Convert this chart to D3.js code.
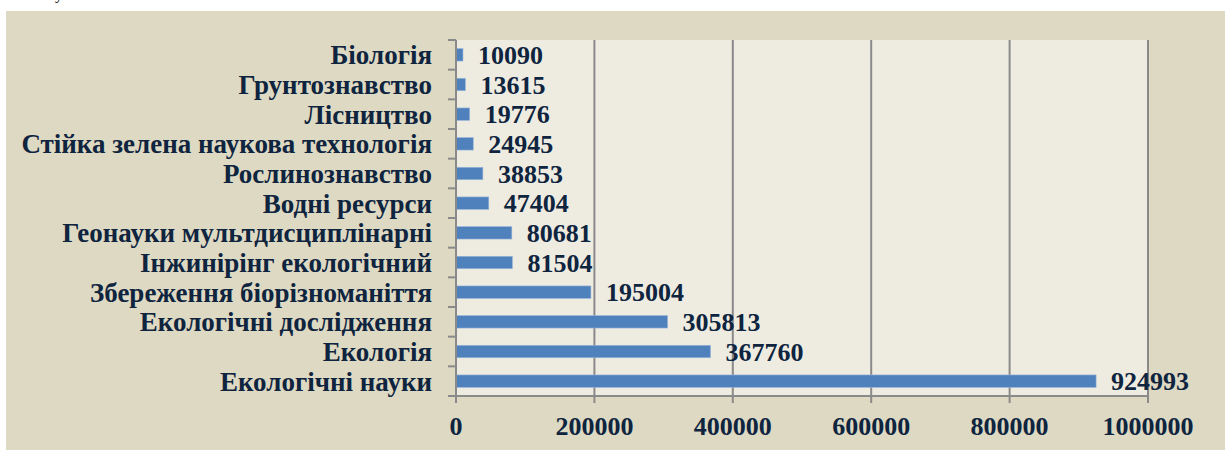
<!doctype html>
<html>
<head>
<meta charset="utf-8">
<script src="https://cdnjs.cloudflare.com/ajax/libs/d3/7.8.5/d3.min.js"></script>
<style>
  body { margin: 0; background: #fff; }
  svg { display: block; }
  text { font-family: "Liberation Serif", "Times New Roman", serif; font-weight: bold; fill: #0f243e; }
</style>
</head>
<body>
<svg width="1225" height="450"></svg>
<script>
// categories listed top to bottom
const categories = ["Біологія", "Грунтознавство", "Лісництво", "Стійка зелена наукова технологія",
  "Рослинознавство", "Водні ресурси", "Геонауки мультдисциплінарні", "Інжинірінг екологічний",
  "Збереження біорізноманіття", "Екологічні дослідження", "Екологія", "Екологічні науки"];
const values = [10090, 13615, 19776, 24945, 38853, 47404, 80681, 81504, 195004, 305813, 367760, 924993];
const xTicks = [0, 200000, 400000, 600000, 800000, 1000000];

const svg = d3.select("svg");

// outer chart area
svg.append("rect").attr("x", 6).attr("y", 11).attr("width", 1219).attr("height", 439).attr("fill", "#ddd9c3");
// stray glyph cut off at the top of the page
svg.append("text").attr("x", 55).attr("y", -1).style("font-size", "16px").style("font-weight", "normal").style("fill", "#000").text("у");

const pLeft = 456, pRight = 1148, pTop = 40, pBottom = 396;
const x = d3.scaleLinear().domain([0, 1000000]).range([pLeft, pRight]);
const y = d3.scaleBand().domain(categories).range([pTop, pBottom]).paddingInner(0.58).paddingOuter(0.29);

svg.append("rect").attr("x", pLeft).attr("y", pTop).attr("width", pRight - pLeft).attr("height", pBottom - pTop).attr("fill", "#eeece1");

// vertical gridlines
svg.selectAll("line.grid").data(xTicks.slice(1)).enter().append("line")
  .attr("class", "grid")
  .attr("x1", d => x(d)).attr("x2", d => x(d))
  .attr("y1", pTop).attr("y2", pBottom + 7)
  .attr("stroke", "#8a8a8a").attr("stroke-width", 2);

// bars
svg.selectAll("rect.bar").data(values).enter().append("rect")
  .attr("class", "bar")
  .attr("x", x(0))
  .attr("y", (d, i) => y(categories[i]))
  .attr("width", d => x(d) - x(0))
  .attr("height", y.bandwidth())
  .attr("fill", "#4f81bd")
  .attr("stroke", "#9bb7d9").attr("stroke-width", 0.6);

// value labels
svg.selectAll("text.val").data(values).enter().append("text")
  .attr("class", "val")
  .attr("x", d => x(d) + 15)
  .attr("y", (d, i) => y(categories[i]) + y.bandwidth() / 2)
  .attr("dy", "0.35em")
  .style("font-size", "26px")
  .text(d => d);

// left axis
const step = y.step();
svg.append("line").attr("x1", pLeft).attr("x2", pLeft).attr("y1", pTop).attr("y2", pBottom + 7)
  .attr("stroke", "#8a8a8a").attr("stroke-width", 2);
svg.selectAll("line.ytick").data(d3.range(categories.length + 1)).enter().append("line")
  .attr("class", "ytick")
  .attr("x1", pLeft - 8).attr("x2", pLeft)
  .attr("y1", i => pTop + i * step).attr("y2", i => pTop + i * step)
  .attr("stroke", "#8a8a8a").attr("stroke-width", 2);
svg.selectAll("text.cat").data(categories).enter().append("text")
  .attr("class", "cat")
  .attr("x", 432)
  .attr("y", d => y(d) + y.bandwidth() / 2)
  .attr("dy", "0.35em")
  .attr("text-anchor", "end")
  .style("font-size", "27px")
  .text(d => d);

// bottom axis
svg.append("line").attr("x1", pLeft).attr("x2", pRight).attr("y1", pBottom).attr("y2", pBottom)
  .attr("stroke", "#8a8a8a").attr("stroke-width", 2);
svg.selectAll("text.xt").data(xTicks).enter().append("text")
  .attr("class", "xt")
  .attr("x", d => x(d))
  .attr("y", 435)
  .attr("text-anchor", "middle")
  .style("font-size", "26px")
  .text(d => d);
</script>
</body>
</html>
